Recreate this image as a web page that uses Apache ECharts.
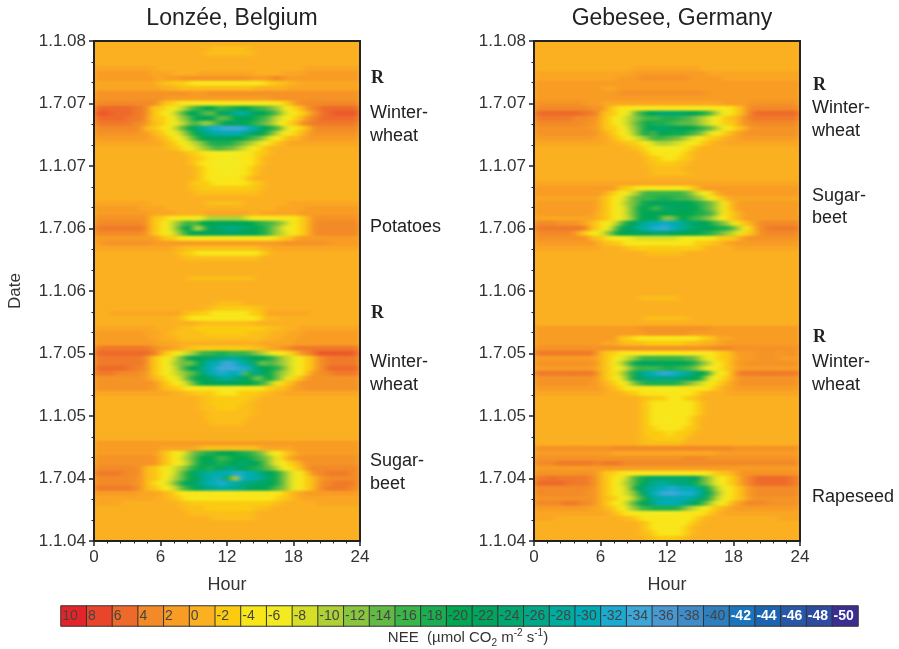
<!DOCTYPE html>
<html><head><meta charset="utf-8">
<style>
html,body{margin:0;padding:0;background:#fff}
#wrap{position:relative;width:899px;height:649px;overflow:hidden}
#clip{position:absolute;left:0;top:0;width:899px;height:649px;clip-path:path("M94 41H360V541H94Z M534 41H800V541H534Z")}
#heat{width:899px;height:649px;filter:url(#soft)}
#c{position:absolute;left:0;top:0;width:899px;height:649px;filter:blur(0.4px)}
</style>
<script src="https://cdn.jsdelivr.net/npm/echarts@6/dist/echarts.min.js"></script>
</head><body>
<svg width="0" height="0" style="position:absolute"><filter id="soft" x="0" y="0" width="100%" height="100%" color-interpolation-filters="sRGB"><feGaussianBlur stdDeviation="3.5 0.8"/></filter></svg>
<div id="wrap"><div id="clip"><div id="heat"></div></div><div id="c"></div></div>
<script>
// One character per half-hour cell, rows run from 1.1.08 (top) down to 1.1.04, four blocks of six hours each.
const levelKey = {'0':0,'1':1,'2':2,'3':3,'4':4,'5':5,'6':6,'7':7,z:-1,a:-2,b:-4,c:-6,d:-8,e:-10,f:-12,g:-14,h:-16,i:-18,j:-20,k:-22,l:-24,m:-26,n:-28,o:-30,p:-32,q:-34};
const lonzee = [
"000000000000 000000000000 000000000000 000000000000",
"000000000000 000000000zzz zzzz00000000 000000000000",
"000000000000 00000000zzzz zzzzz0000000 000000000000",
"000000000000 000000000000 000000000000 000000000000",
"000000000000 000000000000 000000000000 000000000000",
"111111111110 000000000000 000000000000 001111111111",
"222222222211 110000011111 111110000011 112222222222",
"222222222221 122233333333 333322224422 222222222222",
"111111111110 zzaaabbbbbbb bbbbbbbaazz0 011111111111",
"111111111111 000zzzzzzzzz zzzzz0000001 111111111111",
"333333333333 333332223333 333333333333 333333333333",
"333333333333 322222222222 222222223333 333333333333",
"444444444443 zaabbbbbbbbb bbbbbbbbbbaz 334444444444",
"6666666554za abcdeghijjhh iijjihhgfecb az3456666666",
"7776666554za bcdfhjkhggjk lnnnlkjihfdc baz346677777",
"6666665553za abcefhjkkjgg hjkkjihgedcb az3456666666",
"5555555443zz abcdeghfeghj kkkjihgfecba z34555555555",
"444444443zza bcdfhjlnoppq qqqponkjhgdc baz344444444",
"33333333220z abcdfhjlmnoo ooomlkjhfdcb az1333333333",
"222222222210 zabcdfhjkkkk kjjihgfdcba0 z12222222222",
"111111111111 0zabcdefhiii ihgfedcbaz01 111111111111",
"000000000000 0zzabcdefghg gfedcbaz0000 000000000000",
"000000000000 0000zaabbccc cccbbaaz0000 000000000000",
"000000000000 00000zaabbcc ccbbbaz00000 000000000000",
"000000000000 00000zabbccc cccbbaz00000 000000000000",
"000000000000 000000zabbcc ccbbaz000000 000000000000",
"000000000000 000000zabbbc ccbbaz000000 000000000000",
"000000000000 000000zabbbb bbbaz0000000 000000000000",
"000000000000 00000zaaabbb bbbbaaz00000 000000000000",
"000000000000 00000zzaaaaa aaaaazz00000 000000000000",
"000000000000 000000zzzzzz zzzzzz000000 000000000000",
"000000000000 000000000000 000000000000 000000000000",
"111111111100 00000000zzzz zzz000000001 111111111111",
"222222221111 100000000000 000000000111 112222222222",
"222222222211 111000001111 111100111111 122222222222",
"3333333333za abbbbbcceeee eeedcbbbbbbb baz333333333",
"4444444443za bcefhhgjjjkk kkjjjihhgfec baz344444444",
"5555555554za bcegjkdfkkll mmllkjihfecb baz344444444",
"4444444443za bcdfhjkkkjkk lkkkjjihfedc baz344444444",
"222222222221 zaabbbbbbbbb bbbbbbbbbaaz 122222222222",
"223333333322 222222222222 222222222233 333333222222",
"111111111111 1100zzzzzzzz zzzzzz001111 111111111111",
"000000000000 000zaabbbbbb bbbbbbaz0000 000000000000",
"000000000000 0000zzzzzzzz zzzzzz000000 000000000000",
"000000000000 000000000000 000000000000 000000000000",
"000000000000 000000000000 000000000000 000000000000",
"000000000000 000000000000 000000000000 000000000000",
"000000000000 00000zzzzzzz zzzzz0000000 000000000000",
"000000000000 000000000000 000000000000 000000000000",
"000000000000 000000000000 000000000000 000000000000",
"000000000000 000000000000 000000000000 000000000000",
"000000000000 000000000000 000000000000 000000000000",
"000000000000 0000000000zz zzz000000000 000000000000",
"000000000000 00000000zzaa aaaaazz00000 000000000000",
"000111111111 1111zzaaabbb bbbbaaz11111 111000000000",
"000000000000 000zabbbbbbb bbbbbba0z000 000000000000",
"000000000000 0000000zzzzz zzzzz0000000 000000000000",
"111111111110 000zzzaaaaaa aaaaaaazzz00 011111111111",
"222222222111 00zzzzzzaaaa aaaazzzz0001 112222222222",
"222222222211 000zzzzzzzzz zzzzzzz00011 122222222222",
"222222222221 111000000000 000000111111 222222222222",
"555555555543 2211zzaaaaaa aaaazzz11234 555555555555",
"666666666654 zabcdefhhhii hhhhgfedcbba z34577777776",
"5555555554za bcdfhjkkllmm nnmlkkjihfed cbaz34555555",
"5555555554za bcefgfiknooq qponlifhgfed cbaz34555555",
"6666665544za bcdfhjkmooqq qqppolkjihfd cbaz34666666",
"5555444433za bcdefghknopp oopgknkjhfed cbz234455555",
"33333333320z abcdfhjkklmn nmljifhjhfdb az2333333333",
"333333333331 zabcdfhjjkkk kkjjjihfdbaz 133333333333",
"333333333322 zzaabbbcbbbc cccbbbbaazz1 223333333333",
"111111111111 1100zzaaaabb bbaaaazz0011 111111111111",
"000000000000 0000000zzaaa aaaazz000000 000000000000",
"000000000000 0000000zzaaa aaazz0000000 000000000000",
"000000000000 0000000zzzaa aazzz0000000 000000000000",
"000000000000 00000000zzzz zzzzz0000000 000000000000",
"000000000000 00000000zzzz zzzz00000000 000000000000",
"000000000000 000000000zzz zzz000000000 000000000000",
"000000000000 000000000000 000000000000 000000000000",
"000000000000 000000000000 000000000000 000000000000",
"000000000000 000000000000 000000000000 000000000000",
"222222222222 222222222222 222222222222 222222222222",
"222222222222 1111111zzzzz zzzzzz111111 222222222222",
"222222222221 zabcdfghiijj jjiihgfdcbaz 122222222222",
"333333333332 zabcefhjjjhh ijjjihgfdbz1 233333333333",
"333333333332 zabcdfhjklii jkllkjhfdcba z13333333333",
"444444443zza bcdefhijiikl mlkjiihgfdcb az3444444444",
"555554443zza bcdfhjlmnnoo oppoonlkjhfd cbz344555544",
"444444433zza bcefhjjmonpm iapoonmljhfd cbaz23444444",
"444444433zab cdfhjklmoopp oommllkkjhfd cbaz24455554",
"555555543zza bcdfhiklmmnn nmmlkkkjhgfd cbaz34555544",
"222222221111 0zabbbbbbbbb bbbbbbbbbbaz 012222222222",
"111111111110 0zzabbccbbbb bbbbbbbbbaaz 011111111111",
"111110000000 000zzaaaaaaa aaaaaaaazz00 000011111111",
"000000000000 0000zzzzaaaa aaaaazzz0000 000000000000",
"000000000000 00000zzzzzzz zzzzz0000000 000000000000",
"000000000000 000000000zzz zzzzz0000000 000000000000",
"000000000000 000000000000 000000000000 000000000000",
"000000000000 000000000000 000000000000 000000000000",
"000000000000 000000000000 000000000000 000000000000",
"000000000000 000000000000 000000000000 000000000000"
];
const gebesee = [
"000000000000 000000000000 000000000000 000000000000",
"000000000000 000000000000 000000000000 000000000000",
"000000000000 000000000000 000000000000 000000000000",
"000000000000 000000000000 000000000000 000000000000",
"000000000000 000000000000 000000000000 000000000000",
"000000000000 000000111111 111111000000 000000000000",
"111111111111 111111222222 222222211111 111111111111",
"111111111111 111222233333 333322222211 111111111111",
"222222222222 222222222222 222222222222 222222222222",
"222222222222 111222222222 222222222222 222222222222",
"222222222222 222333333333 333333322222 222222222222",
"222222222222 222222222222 222222222222 222222222222",
"333333333222 111111111111 111111111122 222333333333",
"444444444433 3zabbbbbbbbb bbbbbbbbbbbb az3444444444",
"666666666554 zzabcdghjkll lllkkjihfdcb az3566666666",
"555555544433 zabcdefghhhi iihhgfedcbaz z24555555555",
"444444444332 zabcdeghjiii hhgggfedcbaa z23444444444",
"333333333322 zaabcefhkkll kkkjjihgfdcb az1333333333",
"333333333332 1zabcdfhjgjj jijihgfdcbaz 123333333333",
"222222222221 10zabcdefhhh ggfedcbaaz01 122222222222",
"111111111111 100zzaabcdee eddcbbaz0011 111111111111",
"000000000000 00000zzabbcc ccbbaz000000 000000000000",
"000000000000 0000000zabbb bbbaz0000000 000000000000",
"000000000000 00000000zaab bbaaz0000000 000000000000",
"000000000000 00000000zzaa aazz00000000 000000000000",
"000000000000 000000000zzz zzz000000000 000000000000",
"000000000000 000000000zzz zzzz00000000 000000000000",
"000000000000 000000000000 000000000000 000000000000",
"111111111111 111111111111 111111111111 111111111111",
"222222222222 222zaabbbbbb bbbbaz222222 222222222222",
"222222222222 1zabcdeghhhh hhhgfdcbz122 222222222222",
"111111111111 zabcdfghhhii ihhhgfecbaz1 111111111111",
"222222222221 zabcefgijkkk kkkjjihgfdbz 122222222222",
"222222222221 zabcdfhjkhhk lkkkjjhgfdbz 122222222222",
"222222222220 zabcdfhjjkjj jjjjjiihgdba z12222222222",
"111111111110 zabcdehjjkjf fgjjhhgfecba z12222222222",
"4444333321za bcdfiklmnoop oonmlkkjhgfd baz134444444",
"5555555554za bcfikkmnoppq ponmlkkkjiih fdbz34555555",
"44444443zabc dfhjjkjkklll kkkjjjiihgfe dbaz24444444",
"3333333333zz abbcccdddddd ddcccccbbaaa z13333333333",
"222222222221 zzaabbbbbbbb bbbbbaaazz11 222222222222",
"111111111111 0000zzaaaaaa aaaaaaz00000 111111111111",
"000000000000 00000000zzzz zzz000000000 000000000000",
"000000000000 000000000000 000000000000 000000000000",
"000000000000 000000000000 000000000000 000000000000",
"000000000000 000000000000 000000000000 000000000000",
"000000000000 000000000000 000000000000 000000000000",
"000000000000 000000000000 000000000000 000000000000",
"000000000000 000000000000 000000000000 000000000000",
"000000000000 000000000000 000000000000 000000000000",
"000000000000 000000000000 000000000000 000000000000",
"000000000000 0000000zzzzz zz0000000000 000000000000",
"000000000000 000000000000 000000000000 000000000000",
"000000000000 000000000000 000000000000 000000000000",
"000000000000 000000000000 000000000000 000000000000",
"000000000000 00000000zzzz zzzz00000000 000000000000",
"000000000000 000000000000 000000000000 000000000000",
"222222222222 222222233333 333333332222 222222222222",
"222222222222 222222223333 333322222222 222222222222",
"222222222222 222zaabbbbbb bbbbbbaaz111 222222222222",
"222222222222 1110zzzzaaaa aaazzz000122 222222222222",
"333333333333 333333333333 333333334444 333333333333",
"555555555552 zaabbbbbbbbb bbbbbbbbbaaz 222233332333",
"222222222221 zabcdefhhhhh hhhggfdcbaaz 122233332222",
"333333333332 zacdfhjkkkkj kkjjihfecbaz 223333333333",
"222222222221 zabcdfhhhhhi iihhgfdcbbaz 122222222222",
"555555555553 zabdfhkmnopq pponmkjhdcbz 355555555555",
"333333333332 zabcehklmmmm mmllkjhdcbaz 233333333333",
"333333333322 0zabceghiiii iihgfedbbaz1 233333333333",
"222222222222 10zabbbbbbcc ccbbbbbbaz11 222222222222",
"111111111111 1000zaabbbbb bbbbbaz00001 111111111111",
"000000000000 0000000zzaaa bbbaaz000000 000000000000",
"000000000000 0000000zabbb bbbbbaz00000 000000000000",
"000000000000 0000000zabbb bbbbbaz00000 000000000000",
"000000000000 0000000zabbb bbbbbaz00000 000000000000",
"000000000000 0000000zabbc cbbbaz000000 000000000000",
"000000000000 0000000zabbb bbbbaz000000 000000000000",
"000000000000 0000000zaabb bbbaaz000000 000000000000",
"000000000000 0000000zaaaa baaaz0000000 000000000000",
"000000000000 0000000zzaaa aaaz00000000 000000000000",
"000000000000 0000000zzzzz zzz000000000 000000000000",
"333333333333 334444444444 444444444444 333333333333",
"222222222222 221111111111 111111111222 222222222222",
"333333333333 333333333333 333444433333 333333333333",
"444455555554 555544444444 444444444444 444444444444",
"222222222222 222222222222 222222222222 222222222222",
"333333333332 zaabbbbbbbbb bbbbbbbbaazz 133333333333",
"555655555542 zabcdfhiklll llllkkgfdcba z24566666655",
"666666555542 zabcefhjlmnn mmlmkigfdcba z24566666655",
"444444444432 zabcdfjlmnoo ppooonlifdcb az2344444444",
"444444444332 zabcdegkmopq qqpppomjgecb az2344444444",
"333333333332 zzabcdfhknno oooonmlifdcb az1333333333",
"444445554432 zabcdfhjkmoo oonmljhfdcbz 124444333333",
"222222222211 0zabcefhhiii iihfedcbaz01 222222222222",
"111111111111 10zabbbccccc ccbbbbbaz011 111111111111",
"111100000000 0000zzabbbbb bbbbbaz00000 000000001111",
"000000000000 0000000zabbb bbbbaz000000 000000000000",
"000000000000 0000000zabbb bbbaz0000000 000000000000",
"000000000000 0000000zzabb bbbaz0000000 000000000000",
"000000000000 00000000zzaa aazz00000000 000000000000"
];
const dateTicks = ['1.1.04','1.7.04','1.1.05','1.7.05','1.1.06','1.7.06','1.1.07','1.7.07','1.1.08'];
const scaleLevels = [10,8,6,4,2,0,-2,-4,-6,-8,-10,-12,-14,-16,-18,-20,-22,-24,-26,-28,-30,-32,-34,-36,-38,-40,-42,-44,-46,-48,-50];
const scaleColors = ['#e5242a','#e9452b','#ee6a2a','#f28a27','#f89c24','#fbb021','#fbcb12','#f9e61a','#f3ea20','#d6df26','#afd136','#8ac53f','#62b946','#39b54a','#1aae50','#00a651','#00a45e','#00a76f','#00a888','#00ac9e','#00abb4','#1babd0','#3ea7da','#4899d2','#3e8dc8','#2e7fbe','#1c75bc','#1d64b0','#2757a7','#2d4ba0','#3a2e92'];
const leftNotes = [['R',371,78,1],['Winter-',370,113],['wheat',370,136],['Potatoes',370,227],['R',371,313,1],['Winter-',370,362],['wheat',370,385],['Sugar-',370,461],['beet',370,484]];
const rightNotes = [['R',813,85,1],['Winter-',812,108],['wheat',812,131],['Sugar-',812,196],['beet',812,218],['R',813,337,1],['Winter-',812,362],['wheat',812,385],['Rapeseed',812,497]];

const FONT = '"Liberation Sans",Arial,sans-serif';
const INK = '#333';
const rowIds = lonzee.map((_, i) => i);
const colIds = Array.from({length: 48}, (_, i) => i);
function cells(rows) {
  const out = [];
  rows.forEach((row, r) => {
    const s = row.replace(/ /g, '');
    colIds.forEach(c => out.push([c, r, levelKey[s[c]] ?? 0]));
  });
  return out;
}
const plots = [
  {left: 94, top: 41, width: 266, height: 500},
  {left: 534, top: 41, width: 266, height: 500}
];
const bar = {left: 61, top: 606, width: 797, height: 20};
const colorScale = {type: 'continuous', show: false, min: -50, max: 10, dimension: 2, inRange: {color: scaleColors.slice().reverse()}};

// Softened field layer (the two heat maps)
const heatChart = echarts.init(document.getElementById('heat'));
const hidden = {show: false};
const heat = (rows, i) => ({type: 'heatmap', xAxisIndex: i, yAxisIndex: i, data: cells(rows), progressive: 0, silent: true, itemStyle: {borderWidth: 0}, emphasis: {disabled: true}});
heatChart.setOption({
  animation: false,
  backgroundColor: '#fbb021',
  grid: plots,
  xAxis: [0, 1].map(g => ({...hidden, gridIndex: g, type: 'category', data: colIds})),
  yAxis: [0, 1].map(g => ({...hidden, gridIndex: g, type: 'category', data: rowIds, inverse: true})),
  visualMap: {...colorScale, seriesIndex: [0, 1]},
  series: [heat(lonzee, 0), heat(gebesee, 1)]
});

// Crisp layer: frames, axes, colour scale and text
const line = {show: true, onZero: false, lineStyle: {color: '#222', width: 2}};
const xAxes = [], yAxes = [];
[0, 1].forEach(g => {
  xAxes.push({gridIndex: g, type: 'category', data: colIds, position: 'top', z: 5, axisLine: line, axisTick: {show: false}, axisLabel: {show: false}, splitLine: {show: false}});
  xAxes.push({gridIndex: g, type: 'value', min: 0, max: 24, interval: 6, position: 'bottom', z: 5, axisLine: line,
    axisTick: {length: 5, lineStyle: {color: '#222', width: 1.5}}, minorTick: {show: true, splitNumber: 5, length: 2.5, lineStyle: {color: '#222', width: 1}},
    axisLabel: {fontFamily: FONT, fontSize: 17, color: INK, margin: 8}, splitLine: {show: false}, minorSplitLine: {show: false},
    name: 'Hour', nameLocation: 'middle', nameGap: 35, nameTextStyle: {fontFamily: FONT, fontSize: 18, color: INK}});
  yAxes.push({gridIndex: g, type: 'category', data: rowIds, inverse: true, position: 'right', z: 5, axisLine: line, axisTick: {show: false}, axisLabel: {show: false}, splitLine: {show: false}});
  yAxes.push({gridIndex: g, type: 'value', min: 0, max: 48, interval: 6, position: 'left', z: 5, axisLine: line,
    axisTick: {length: 5, lineStyle: {color: '#222', width: 1.5}}, minorTick: {show: true, splitNumber: 3, length: 2.5, lineStyle: {color: '#222', width: 1}},
    axisLabel: {fontFamily: FONT, fontSize: 17, color: INK, margin: 8, formatter: v => dateTicks[v / 6]}, splitLine: {show: false}, minorSplitLine: {show: false},
    name: g === 0 ? 'Date' : '', nameLocation: 'middle', nameGap: 70, nameTextStyle: {fontFamily: FONT, fontSize: 17, color: INK}});
});
xAxes.push({gridIndex: 2, type: 'category', data: scaleLevels, axisLine: {show: false}, axisTick: {show: false}, axisLabel: {show: false}});
yAxes.push({gridIndex: 2, type: 'category', data: ['NEE'], axisLine: {show: false}, axisTick: {show: false}, axisLabel: {show: false}});

const noteText = ([t, x, y, bold]) => ({type: 'text', x, y, style: {text: t, fill: '#222', align: 'left', verticalAlign: 'middle',
  font: bold ? 'bold 18px "Liberation Serif",serif' : '18px ' + FONT}});

const chart = echarts.init(document.getElementById('c'));
chart.setOption({
  animation: false,
  backgroundColor: 'transparent',
  grid: [...plots, bar],
  xAxis: xAxes,
  yAxis: yAxes,
  title: [
    {text: 'Lonzée, Belgium', left: 227, top: 2, textAlign: 'center', textStyle: {fontFamily: FONT, fontSize: 23, fontWeight: 'normal', color: '#222'}},
    {text: 'Gebesee, Germany', left: 667, top: 2, textAlign: 'center', textStyle: {fontFamily: FONT, fontSize: 23, fontWeight: 'normal', color: '#222'}}
  ],
  visualMap: {...colorScale, seriesIndex: [0]},
  series: [
    {type: 'heatmap', xAxisIndex: 4, yAxisIndex: 4, progressive: 0, silent: true, emphasis: {disabled: true},
      itemStyle: {borderColor: '#333', borderWidth: 1},
      data: scaleLevels.map((v, i) => ({value: [i, 0, v], label: {show: true, position: 'insideLeft', distance: 2, fontFamily: FONT, fontSize: 14,
        fontWeight: v <= -42 ? 'bold' : 'normal', color: v <= -42 ? '#fff' : '#444', formatter: String(v)}}))}
  ],
  graphic: [
    ...leftNotes.map(noteText),
    ...rightNotes.map(noteText),
    {type: 'text', x: 468, y: 638, style: {align: 'center', verticalAlign: 'middle',
      text: '{n|NEE  (µmol CO}{s|2}{n| m}{u|-2}{n| s}{u|-1}{n|)}',
      rich: {n: {font: '15px ' + FONT, fill: INK, lineHeight: 20}, s: {font: '10px ' + FONT, fill: INK, verticalAlign: 'bottom', lineHeight: 20}, u: {font: '10px ' + FONT, fill: INK, verticalAlign: 'top', lineHeight: 20}}}}
  ]
});
</script></body></html>
